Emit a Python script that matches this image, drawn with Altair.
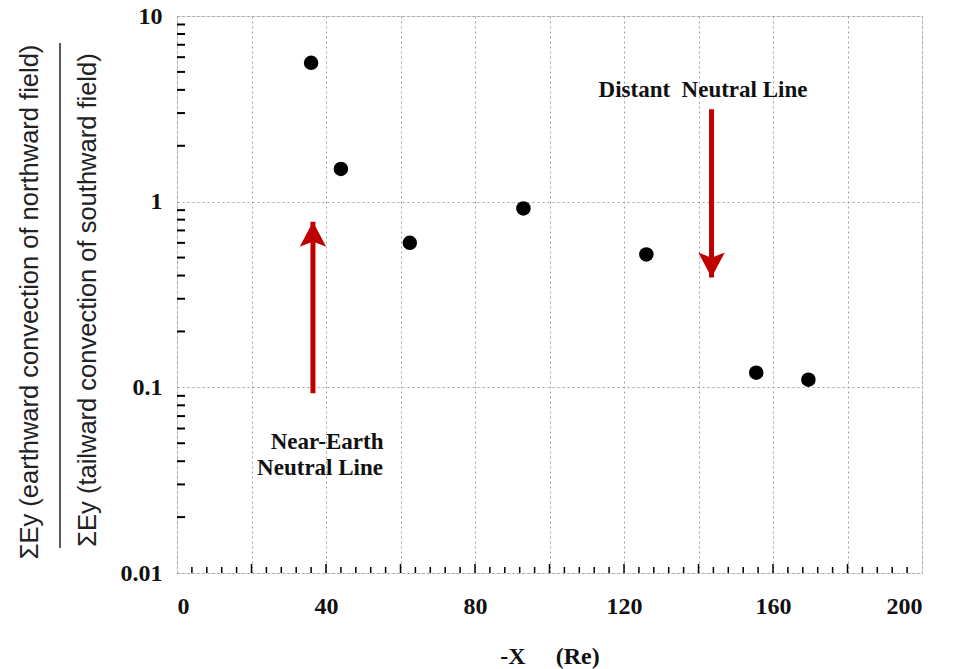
import altair as alt
import pandas as pd

# Measured ratio of summed Ey (earthward / tailward convection) vs downtail distance
x_re = [36, 44, 62.5, 93, 126, 155.5, 169.5]
ratio = [5.6, 1.5, 0.6, 0.92, 0.52, 0.12, 0.11]

# Neutral-line arrows: position, start and end of each shaft
arrow_x = [36.5, 143.5]
arrow_from = [0.093, 3.15]
arrow_to = [0.78, 0.39]

# Annotation labels (non-breaking spaces keep the wide gaps)
note_text = ["Near-Earth", "Neutral Line", "Distant\u00a0\u00a0Neutral Line"]
note_x = [40.3, 38.4, 141.2]
note_y = [0.0505, 0.0368, 3.99]

# Axis ticks
y_major = [0.01, 0.1, 1, 10]
y_minor_mult = [2, 3, 4, 5, 6, 7, 8, 9]
y_decades = [0.01, 0.1, 1]
x_grid = [0, 20, 40, 60, 80, 100, 120, 140, 160, 180, 200]
x_minor = [v for v in range(4, 200, 4) if v % 20 != 0]
x_mid = [20, 40, 60, 80, 100, 120, 140, 160, 180]

W, H = 745, 557
SERIF = "Liberation Serif"
RED = "#c00000"

pts = pd.DataFrame({"x": x_re, "r": ratio})
arrows = pd.DataFrame({"x": arrow_x, "y0": arrow_from, "y1": arrow_to})
notes = pd.DataFrame({"x": note_x, "y": note_y, "t": note_text})
yminor = pd.DataFrame({"v": [m * d for d in y_decades for m in y_minor_mult]})
xminor = pd.DataFrame({"v": x_minor})
xmid = pd.DataFrame({"v": x_mid})

xs = alt.Scale(domain=[0, 200], nice=False)
ys = alt.Scale(type="log", domain=[0.01, 10], nice=False)

x_axis = alt.Axis(
    values=x_grid,
    labelExpr="datum.value % 40 == 0 ? datum.label : ''",
    title="-X\u00a0\u00a0\u00a0\u00a0\u00a0(Re)",
    titleFont=SERIF, titleFontSize=24, titleFontWeight="bold", titleColor="#111",
    titlePadding=26,
    labelFont=SERIF, labelFontSize=24, labelFontWeight="bold", labelColor="#111",
    labelPadding=21, ticks=False, domain=False,
    grid=True, gridColor="#a0a0a0", gridDash=[2, 3], gridWidth=1,
)
y_axis = alt.Axis(
    values=y_major, format="~g", title=None,
    labelFont=SERIF, labelFontSize=24, labelFontWeight="bold", labelColor="#111",
    labelPadding=15, ticks=False, domain=False,
    grid=True, gridColor="#a0a0a0", gridDash=[2, 3], gridWidth=1,
)

base = alt.Chart(pts)

points = base.mark_circle(size=210, color="black", opacity=1).encode(
    x=alt.X("x:Q", scale=xs, axis=x_axis),
    y=alt.Y("r:Q", scale=ys, axis=y_axis),
)

y_ticks = alt.Chart(yminor).mark_rule(color="black", strokeWidth=2).encode(
    y=alt.Y("v:Q", scale=ys), x=alt.value(0), x2=alt.value(8)
)
x_ticks = alt.Chart(xminor).mark_rule(color="black", strokeWidth=1.5).encode(
    x=alt.X("v:Q", scale=xs), y=alt.value(H), y2=alt.value(H - 6)
)
x_ticks_mid = alt.Chart(xmid).mark_rule(color="black", strokeWidth=1.5).encode(
    x=alt.X("v:Q", scale=xs), y=alt.value(H), y2=alt.value(H - 9)
)

shafts = alt.Chart(arrows).mark_rule(color=RED, strokeWidth=5).encode(
    x=alt.X("x:Q", scale=xs), y=alt.Y("y0:Q", scale=ys), y2="y1:Q"
)
head_up = alt.Chart(arrows.iloc[[0]]).mark_point(
    shape="M0,0L1,1.9L0,1.5L-1,1.9Z", size=700, filled=True, color=RED,
    opacity=1, strokeWidth=0,
).encode(x=alt.X("x:Q", scale=xs), y=alt.Y("y1:Q", scale=ys))
head_down = alt.Chart(arrows.iloc[[1]]).mark_point(
    shape="M0,0L1,-1.9L0,-1.5L-1,-1.9Z", size=700, filled=True, color=RED,
    opacity=1, strokeWidth=0,
).encode(x=alt.X("x:Q", scale=xs), y=alt.Y("y1:Q", scale=ys))

labels = alt.Chart(notes).mark_text(
    font=SERIF, fontSize=23, fontWeight="bold", color="#111",
    align="center", baseline="middle",
).encode(x=alt.X("x:Q", scale=xs), y=alt.Y("y:Q", scale=ys), text="t:N")

# Y axis title drawn as a fraction: numerator, bar, denominator
ytitle_font = "Liberation Sans"
numer = alt.Chart(pd.DataFrame({"t": ["\u03a3Ey (earthward convection of northward field)"]})).mark_text(
    font=ytitle_font, fontSize=25.5, angle=270, color="#222", align="center", baseline="middle"
).encode(text="t:N", x=alt.value(-147), y=alt.value(286))
denom = alt.Chart(pd.DataFrame({"t": ["\u03a3Ey (tailward convection of southward field)"]})).mark_text(
    font=ytitle_font, fontSize=25.5, angle=270, color="#222", align="center", baseline="middle"
).encode(text="t:N", x=alt.value(-89), y=alt.value(284))
bar = alt.Chart(pd.DataFrame({"k": [0]})).mark_rule(color="#222", strokeWidth=1.5).encode(
    x=alt.value(-117), y=alt.value(27), y2=alt.value(532)
)

chart = alt.layer(
    points, y_ticks, x_ticks, x_ticks_mid, shafts, head_up, head_down, labels,
    numer, denom, bar,
).properties(
    width=W, height=H,
    autosize=alt.AutoSizeParams(type="none"),
    padding={"left": 177, "top": 16, "right": 45, "bottom": 96},
).configure_view(
    stroke="black", strokeWidth=2
).configure(background="white")

chart.save("out.html", embed_options={"renderer": "svg", "actions": False})
